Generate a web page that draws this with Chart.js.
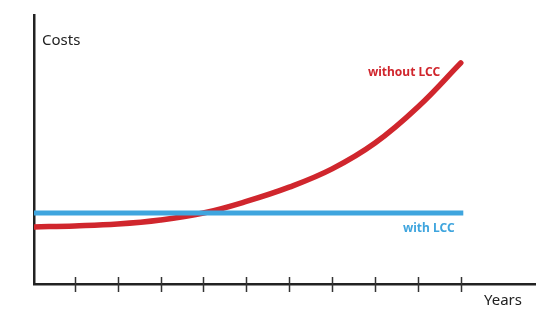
<!DOCTYPE html>
<html>
<head>
<meta charset="utf-8">
<script src="https://cdn.jsdelivr.net/npm/chart.js@4"></script>
<style>
  html, body { margin: 0; padding: 0; background: #fff; }
  #wrap { width: 555px; height: 325px; }
</style>
</head>
<body>
<div id="wrap"><canvas id="chart"></canvas></div>
<script>
// years on the x axis (0 = where the axes meet)
const years = [0.05, 1, 2, 3, 4, 5, 6, 7, 8, 9, 10];
const withoutLCC = [21.2, 21.6, 22.3, 23.8, 26.4, 30.7, 36.0, 42.8, 52.4, 65.8, 82.2];
const withLCC = [26.4, 26.4, 26.4, 26.4, 26.4, 26.4, 26.4, 26.4, 26.4, 26.4, 26.4];
const tickYears = [1, 2, 3, 4, 5, 6, 7, 8, 9, 10];

const red = '#d0262d';
const blue = '#3fa5de';

// tick marks that cross the x axis + text labels
const axisDecor = {
    id: 'axisDecor',
    afterDraw(chart) {
        const ctx = chart.ctx;
        const x = chart.scales.x;
        const y0 = chart.chartArea.bottom;
        ctx.save();
        ctx.strokeStyle = '#333';
        ctx.lineWidth = 1.5;
        tickYears.forEach(v => {
            const px = Math.round(x.getPixelForValue(v)) + 0.5;
            ctx.beginPath();
            ctx.moveTo(px, y0 - 7);
            ctx.lineTo(px, y0 + 8);
            ctx.stroke();
        });

        ctx.fillStyle = '#222';
        ctx.font = '15px "Noto Sans"';
        ctx.textBaseline = 'alphabetic';
        ctx.fillText('Costs', 42, 45);
        ctx.fillText('Years', 484, 305);

        ctx.font = 'bold 12px "Noto Sans"';
        ctx.fillStyle = red;
        ctx.fillText('without LCC', 368, 76);
        ctx.fillStyle = blue;
        ctx.fillText('with LCC', 403, 232);
        ctx.restore();
    }
};

new Chart(document.querySelector('#chart').getContext('2d'), {
    type: 'line',
    data: {
        datasets: [
            {
                label: 'with LCC',
                data: years.map((v, i) => ({x: v, y: withLCC[i]})),
                borderColor: blue,
                borderWidth: 5,
                borderCapStyle: 'square',
                pointRadius: 0
            },
            {
                label: 'without LCC',
                data: years.map((v, i) => ({x: v, y: withoutLCC[i]})),
                borderColor: red,
                borderWidth: 5.5,
                borderCapStyle: 'round',
                tension: 0.4,
                pointRadius: 0
            }
        ]
    },
    options: {
        responsive: true,
        maintainAspectRatio: false,
        animation: false,
        layout: { padding: { left: 34, right: 20, top: 15, bottom: 41 } },
        plugins: {
            legend: { display: false },
            tooltip: { enabled: false }
        },
        scales: {
            x: {
                type: 'linear',
                min: 0.05,
                max: 11.73,
                ticks: { display: false },
                grid: { drawOnChartArea: false, drawTicks: false },
                border: { display: true, color: '#222', width: 2.5 }
            },
            y: {
                min: 0,
                max: 100,
                ticks: { display: false },
                grid: { drawOnChartArea: false, drawTicks: false },
                border: { display: true, color: '#222', width: 2.5 }
            }
        }
    },
    plugins: [axisDecor]
});
</script>
</body>
</html>
